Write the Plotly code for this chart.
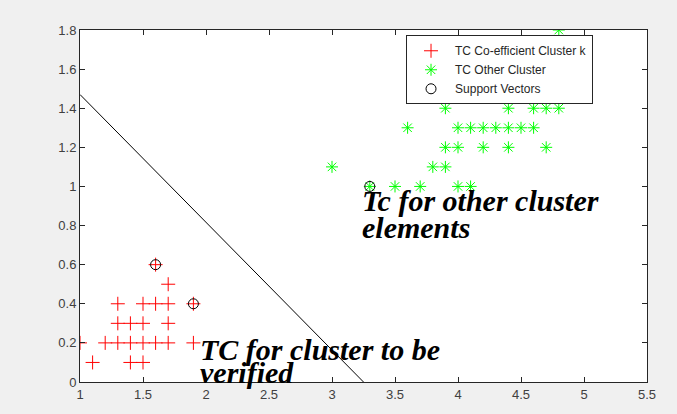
import plotly.graph_objects as go

# TC co-efficient cluster k (red plus)
red_x = [1.1, 1.4, 1.5, 1.0, 1.2, 1.3, 1.4, 1.5, 1.6, 1.7, 1.9, 1.3, 1.4, 1.5, 1.7, 1.3, 1.5, 1.6, 1.7, 1.9, 1.7, 1.6]
red_y = [0.1, 0.1, 0.1, 0.2, 0.2, 0.2, 0.2, 0.2, 0.2, 0.2, 0.2, 0.3, 0.3, 0.3, 0.3, 0.4, 0.4, 0.4, 0.4, 0.4, 0.5, 0.6]

# TC other cluster (green asterisk)
green_x = [3.3, 3.5, 3.7, 4.0, 4.1, 3.0, 3.8, 3.9, 3.9, 4.0, 4.2, 4.4, 4.7,
           3.6, 4.0, 4.1, 4.2, 4.3, 4.4, 4.5, 4.6, 3.9, 4.4, 4.6, 4.7, 4.8, 4.8]
green_y = [1.0, 1.0, 1.0, 1.0, 1.0, 1.1, 1.1, 1.1, 1.2, 1.2, 1.2, 1.2, 1.2,
           1.3, 1.3, 1.3, 1.3, 1.3, 1.3, 1.3, 1.3, 1.4, 1.4, 1.4, 1.4, 1.4, 1.8]

# Support vectors
sv_x = [1.6, 1.9, 3.3]
sv_y = [0.6, 0.4, 1.0]

# Separating line
line_x = [1.0, 3.25]
line_y = [1.47, 0.0]

x_ticks = [1, 1.5, 2, 2.5, 3, 3.5, 4, 4.5, 5, 5.5]
x_labels = ["1", "1.5", "2", "2.5", "3", "3.5", "4", "4.5", "5", "5.5"]
y_ticks = [0, 0.2, 0.4, 0.6, 0.8, 1, 1.2, 1.4, 1.6, 1.8]
y_labels = ["0", "0.2", "0.4", "0.6", "0.8", "1", "1.2", "1.4", "1.6", "1.8"]

fig = go.Figure()
fig.add_trace(go.Scatter(x=red_x, y=red_y, mode="markers", name="TC Co-efficient Cluster k",
                         marker=dict(symbol="cross-thin-open", size=10, color="#ff0000",
                                     line=dict(color="#ff0000", width=1))))
fig.add_trace(go.Scatter(x=green_x, y=green_y, mode="markers", name="TC Other Cluster",
                         marker=dict(symbol="asterisk-open", size=10, color="#00ff00",
                                     line=dict(color="#00ff00", width=1))))
fig.add_trace(go.Scatter(x=sv_x, y=sv_y, mode="markers", name="Support Vectors",
                         marker=dict(symbol="circle-open", size=10, color="#000000",
                                     line=dict(color="#000000", width=1))))
fig.add_trace(go.Scatter(x=line_x, y=line_y, mode="lines", showlegend=False,
                         line=dict(color="#000000", width=1)))

ann_font = dict(family="Liberation Serif", size=30, color="#000000")
for txt, xx, yy in [("<b><i>TC for cluster to be</i></b>", 1.94, 0.165),
                    ("<b><i>verified</i></b>", 1.94, 0.05),
                    ("<b><i>Tc for other cluster</i></b>", 3.22, 0.93),
                    ("<b><i>elements</i></b>", 3.22, 0.79)]:
    fig.add_annotation(x=xx, y=yy, xref="x", yref="y", text=txt, showarrow=False,
                       xanchor="left", yanchor="middle", font=ann_font)

axis_common = dict(showgrid=False, zeroline=False, showline=True, linecolor="#262626", linewidth=1,
                   mirror="ticks", ticks="inside", ticklen=5, tickcolor="#262626",
                   tickfont=dict(family="Arial", size=13, color="#404040"))
fig.update_xaxes(range=[1, 5.5], tickvals=x_ticks, ticktext=x_labels, **axis_common)
fig.update_yaxes(range=[0, 1.8], tickvals=y_ticks, ticktext=y_labels, **axis_common)

fig.update_layout(
    width=677, height=414,
    margin=dict(l=80, r=30, t=30, b=27),
    paper_bgcolor="#f0f0f0", plot_bgcolor="#ffffff",
    legend=dict(x=0.575, y=0.985, xanchor="left", yanchor="top",
                bgcolor="#ffffff", bordercolor="#262626", borderwidth=1,
                font=dict(family="Arial", size=12, color="#262626"),
                tracegroupgap=0, itemwidth=38),
)
fig.write_html("out.html", config={"displayModeBar": False},
               post_script="document.body.style.margin='0';document.body.style.background='#f0f0f0';")
